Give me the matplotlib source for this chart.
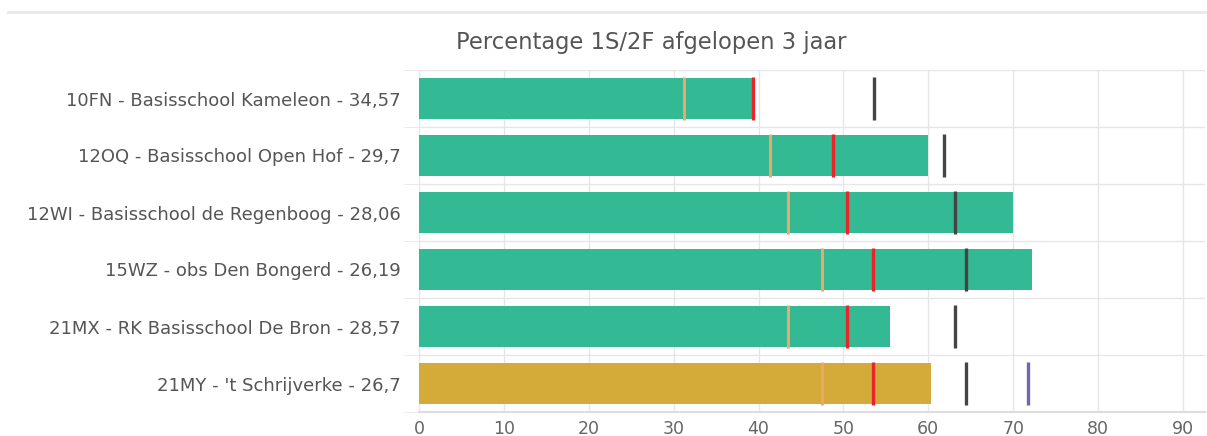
import matplotlib.pyplot as plt
from matplotlib.lines import Line2D

plt.rcParams['font.family'] = ['DejaVu Sans']

labels = ["10FN - Basisschool Kameleon - 34,57",
          "12OQ - Basisschool Open Hof - 29,7",
          "12WI - Basisschool de Regenboog - 28,06",
          "15WZ - obs Den Bongerd - 26,19",
          "21MX - RK Basisschool De Bron - 28,57",
          "21MY - 't Schrijverke - 26,7"]
values = [39.3, 60.0, 70.0, 72.2, 55.5, 60.3]
orange = [31.2, 41.3, 43.5, 47.5, 43.5, 47.5]
red = [39.3, 48.8, 50.4, 53.5, 50.4, 53.5]
black = [53.6, 61.8, 63.1, 64.5, 63.1, 64.5]
purple = [None, None, None, None, None, 71.7]
bar_colors = ['#33b994'] * 5 + ['#d4aa38']
xticks = [0, 10, 20, 30, 40, 50, 60, 70, 80, 90]

fig = plt.figure(figsize=(12.07, 4.36), dpi=100)
ax = fig.add_axes([419/1207, 24/436, (1205-419)/1207, (412-70)/436])

y = list(range(len(labels)))
ax.barh(y, values, height=0.72, color=bar_colors, zorder=2)

hh = 0.38
for i in y:
    ax.vlines(orange[i], i - hh, i + hh, color='#eaa86a', lw=2.2, zorder=3)
    ax.vlines(red[i], i - hh, i + hh, color='#e8262a', lw=2.4, zorder=3)
    ax.vlines(black[i], i - hh, i + hh, color='#444444', lw=2.4, zorder=3)
    if purple[i] is not None:
        ax.vlines(purple[i], i - hh, i + hh, color='#7465b2', lw=2.4, zorder=3)

ax.set_xlim(0, 92.6)
ax.set_ylim(len(labels) - 0.5, -0.5)
ax.set_xticks(xticks)
ax.set_yticks(y)
ax.set_yticklabels(labels, fontsize=13, color='#555555')
ax.tick_params(axis='x', labelsize=12.5, labelcolor='#666666', length=0, pad=6)
ax.tick_params(axis='y', length=0, pad=13)
ax.set_yticks([i - 0.5 for i in range(len(labels) + 1)], minor=True)
ax.tick_params(axis='y', which='minor', length=11, color='#e6e6e6')
ax.grid(axis='x', color='#e6e6e6', lw=1, zorder=0)
ax.grid(axis='y', which='minor', color='#e6e6e6', lw=1, zorder=0)
for s in ['top', 'right', 'left']:
    ax.spines[s].set_visible(False)
ax.spines['bottom'].set_color('#dddddd')
ax.spines['bottom'].set_linewidth(1.5)

fig.text(651/1207, 1 - 43/436, "Percentage 1S/2F afgelopen 3 jaar",
         ha='center', va='center', fontsize=16.3, color='#555555')
fig.add_artist(Line2D([8/1207, 1], [1 - 12/436, 1 - 12/436],
                      color='#e8e8e8', lw=2, transform=fig.transFigure))

fig.savefig('out.png', dpi=100)
